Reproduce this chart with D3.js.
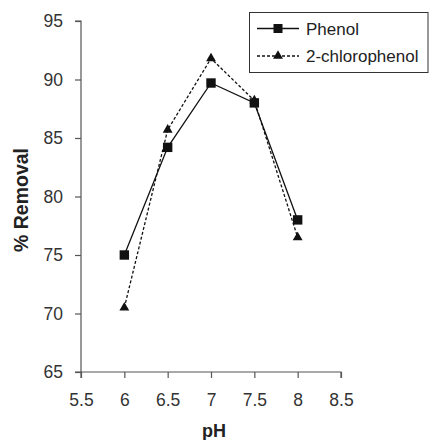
<!DOCTYPE html>
<html><head><meta charset="utf-8">
<script src="https://cdn.jsdelivr.net/npm/d3@7"></script>
<style>body{margin:0;background:#fff;}svg{display:block;}</style>
</head><body>
<script>
const pH = [6, 6.5, 7, 7.5, 8];
const phenol = [75.0, 84.2, 89.7, 88.0, 78.0];
const chlorophenol = [70.5, 85.7, 91.8, 88.2, 76.5];
const xTicks = [5.5, 6, 6.5, 7, 7.5, 8, 8.5];
const yTicks = [65, 70, 75, 80, 85, 90, 95];
const seriesNames = ["Phenol", "2-chlorophenol"];

const W = 429, H = 440;
const svg = d3.select("body").append("svg").attr("width", W).attr("height", H)
  .style("font-family", "'Liberation Sans', Arial, sans-serif");

const x = d3.scaleLinear().domain([5.5, 8.5]).range([81, 341]);
const y = d3.scaleLinear().domain([65, 95]).range([372, 21]);

const axisColor = "#555";
const gx = svg.append("g").attr("transform", "translate(0,372)")
  .call(d3.axisBottom(x).tickValues(xTicks).tickSize(6).tickPadding(16).tickFormat(d3.format("")));
const gy = svg.append("g").attr("transform", "translate(81,0)")
  .call(d3.axisLeft(y).tickValues(yTicks).tickSize(6).tickPadding(12).tickFormat(d3.format("")));
[gx, gy].forEach(g => {
  g.select(".domain").attr("stroke", axisColor).attr("stroke-width", 1.2);
  g.selectAll(".tick line").attr("stroke", axisColor).attr("stroke-width", 1.2);
  g.selectAll(".tick text").attr("fill", "#333").style("font-size", "17.5px")
    .style("font-family", "'Liberation Sans', Arial, sans-serif");
});
gx.select(".domain").attr("d", `M81,6V0H341V6`);
gy.select(".domain").attr("d", `M-6,21H0V372H-6`);

const line = d3.line().x((d, i) => x(pH[i])).y(d => y(d));

svg.append("path").datum(chlorophenol).attr("d", line)
  .attr("fill", "none").attr("stroke", "#111").attr("stroke-width", 1.3).attr("stroke-dasharray", "3,2");
svg.append("path").datum(phenol).attr("d", line)
  .attr("fill", "none").attr("stroke", "#111").attr("stroke-width", 1.3);

const tri = d3.symbol().type(d3.symbolTriangle).size(42);
svg.selectAll(".tri").data(chlorophenol).enter().append("path")
  .attr("d", tri).attr("transform", (d, i) => `translate(${x(pH[i])},${y(d)})`).attr("fill", "#111");
svg.selectAll(".sq").data(phenol).enter().append("rect")
  .attr("x", (d, i) => x(pH[i]) - 4.7).attr("y", d => y(d) - 4.7)
  .attr("width", 9.4).attr("height", 9.4).attr("fill", "#111");

svg.append("text").attr("x", 214).attr("y", 437).attr("text-anchor", "middle")
  .style("font-size", "18px").style("font-weight", "bold").attr("fill", "#222").text("pH");
svg.append("text").attr("transform", "translate(28,200) rotate(-90)").attr("text-anchor", "middle")
  .style("font-size", "19.5px").style("font-weight", "bold").attr("fill", "#222").text("% Removal");

const lg = svg.append("g");
lg.append("rect").attr("x", 249.5).attr("y", 12.5).attr("width", 178.5).attr("height", 60)
  .attr("fill", "#fff").attr("stroke", "#333").attr("stroke-width", 1);
const rows = [28.5, 56];
lg.append("line").attr("x1", 257).attr("x2", 299).attr("y1", rows[0]).attr("y2", rows[0]).attr("stroke", "#111").attr("stroke-width", 1.3);
lg.append("rect").attr("x", 278 - 4.5).attr("y", rows[0] - 4.5).attr("width", 9).attr("height", 9).attr("fill", "#111");
lg.append("line").attr("x1", 257).attr("x2", 299).attr("y1", rows[1]).attr("y2", rows[1]).attr("stroke", "#111").attr("stroke-width", 1.3).attr("stroke-dasharray", "3,2");
lg.append("path").attr("d", tri).attr("transform", `translate(278,${rows[1]})`).attr("fill", "#111");
lg.selectAll(".lt").data(seriesNames).enter().append("text")
  .attr("x", 306).attr("y", (d, i) => rows[i] + 6).style("font-size", "17px").attr("fill", "#222").text(d => d);
</script>
</body></html>
